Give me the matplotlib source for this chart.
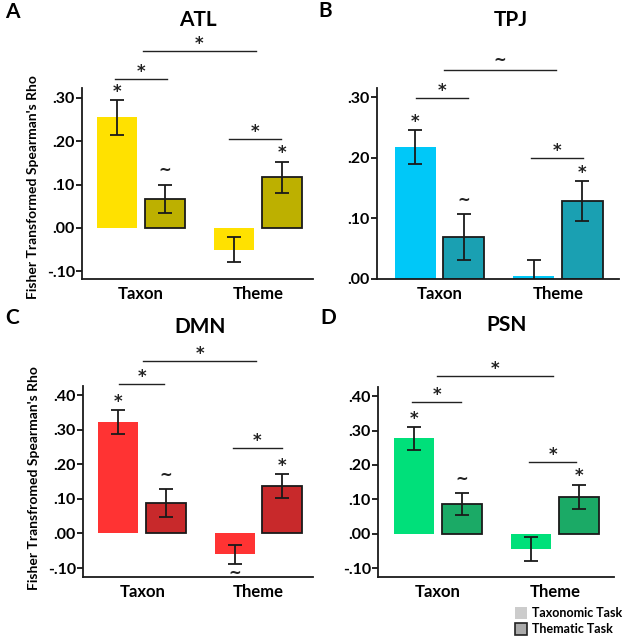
import numpy as np
import matplotlib
matplotlib.use("Agg")
import matplotlib.pyplot as plt
from matplotlib.patches import Rectangle

plt.rcParams['font.family'] = ['Lato', 'DejaVu Sans']
plt.rcParams['font.weight'] = 'bold'

# data
conditions = ["Taxon", "Theme"]
regions = ["ATL", "TPJ", "DMN", "PSN"]
letters = ["A", "B", "C", "D"]

# taxonomic task (light bars) and thematic task (dark bars), per condition
atl_taxonomic = [0.255, -0.050]
atl_thematic = [0.067, 0.117]
atl_tax_err = [0.040, 0.028]
atl_them_err = [0.033, 0.036]

tpj_taxonomic = [0.218, 0.005]
tpj_thematic = [0.069, 0.128]
tpj_tax_err = [0.028, 0.027]
tpj_them_err = [0.038, 0.033]

dmn_taxonomic = [0.323, -0.060]
dmn_thematic = [0.088, 0.137]
dmn_tax_err = [0.034, 0.028]
dmn_them_err = [0.041, 0.035]

psn_taxonomic = [0.278, -0.045]
psn_thematic = [0.087, 0.107]
psn_tax_err = [0.033, 0.035]
psn_them_err = [0.032, 0.036]

# significance marks next to single bars: (condition, task, mark)
atl_marks = [(0, 0, "*"), (0, 1, "~"), (1, 1, "*")]
tpj_marks = [(0, 0, "*"), (0, 1, "~"), (1, 1, "*")]
dmn_marks = [(0, 0, "*"), (0, 1, "~"), (1, 0, "~"), (1, 1, "*")]
psn_marks = [(0, 0, "*"), (0, 1, "~"), (1, 1, "*")]

# brackets: (x1, x2, height, mark)
atl_brackets = [(-0.22, 0.22, 0.344, "*"), (0.02, 0.98, 0.409, "*"), (0.75, 1.20, 0.205, "*")]
tpj_brackets = [(-0.20, 0.24, 0.298, "*"), (0.04, 0.98, 0.345, "~"), (0.77, 1.21, 0.200, "*")]
dmn_brackets = [(-0.20, 0.19, 0.434, "*"), (0.01, 0.98, 0.500, "*"), (0.78, 1.20, 0.248, "*")]
psn_brackets = [(-0.22, 0.20, 0.384, "*"), (-0.01, 0.98, 0.458, "*"), (0.78, 1.18, 0.209, "*")]

light_colors = ["#FFE100", "#00C8F8", "#FF3333", "#00E07A"]
dark_colors = ["#BDB000", "#1AA0B2", "#C8292B", "#1BAA66"]

yticks_list = [
    [-0.1, 0.0, 0.1, 0.2, 0.3],
    [0.0, 0.1, 0.2, 0.3],
    [-0.1, 0.0, 0.1, 0.2, 0.3, 0.4],
    [-0.1, 0.0, 0.1, 0.2, 0.3, 0.4],
]
ylims = [(-0.118, 0.323), (0.0, 0.315), (-0.126, 0.427), (-0.126, 0.427)]
xlims = [(-0.504, 1.47), (-0.527, 1.515), (-0.51, 1.47), (-0.513, 1.504)]

# axes rectangles in pixels: left, right, bottom, top
boxes = [(82, 313, 279, 88), (377, 619, 279, 88), (83, 313, 577, 386), (378, 614, 577, 387)]
title_pos = [(198, 20), (511, 20), (200, 327), (507, 325)]
letter_pos = [(5, 12), (318, 11), (5, 318), (320, 318)]

W, H = 628, 639
fig = plt.figure(figsize=(W / 100, H / 100), dpi=100)

panels = [
    (atl_taxonomic, atl_thematic, atl_tax_err, atl_them_err, atl_marks, atl_brackets),
    (tpj_taxonomic, tpj_thematic, tpj_tax_err, tpj_them_err, tpj_marks, tpj_brackets),
    (dmn_taxonomic, dmn_thematic, dmn_tax_err, dmn_them_err, dmn_marks, dmn_brackets),
    (psn_taxonomic, psn_thematic, psn_tax_err, psn_them_err, psn_marks, psn_brackets),
]

width = 0.345
offset = 0.205
x = np.arange(len(conditions))


def mark(ax, xx, yy, m, dy):
    # stars and tildes in DejaVu, heavier than Lato's
    size = 12 if m == "*" else 11
    ax.annotate(m, (xx, yy), xytext=(0, dy), textcoords="offset points",
                ha="center", va="center", fontsize=size, family=["DejaVu Sans"],
                color="#222222", annotation_clip=False)


for i, (tax, them, tax_e, them_e, marks, brackets) in enumerate(panels):
    l, r, b, t = boxes[i]
    ax = fig.add_axes([l / W, 1 - b / H, (r - l) / W, (b - t) / H])
    ax.bar(x - offset, tax, width, color=light_colors[i], zorder=2)
    ax.bar(x + offset, them, width, color=dark_colors[i], edgecolor="#1a1a1a",
           linewidth=1.3, zorder=2)
    ax.errorbar(x - offset, tax, yerr=tax_e, fmt="none", ecolor="#1a1a1a",
                elinewidth=1.3, capsize=5, capthick=1.3, zorder=3)
    ax.errorbar(x + offset, them, yerr=them_e, fmt="none", ecolor="#1a1a1a",
                elinewidth=1.3, capsize=5, capthick=1.3, zorder=3)

    vals = [tax, them]
    errs = [tax_e, them_e]
    for c, task, m in marks:
        xx = c + (offset if task else -offset)
        v = vals[task][c]
        e = errs[task][c]
        if v < 0 and m == "~":
            mark(ax, xx, v - e, m, -7)
        elif m == "~":
            mark(ax, xx, v + e, m, 10)
        else:
            mark(ax, xx, v + e, m, 6)

    for x1, x2, h, m in brackets:
        ax.plot([x1, x2], [h, h], color="#222222", lw=1, clip_on=False)
        mark(ax, (x1 + x2) / 2, h, m, 5 if m == "*" else 7)

    ax.set_xlim(*xlims[i])
    ax.set_ylim(*ylims[i])
    ax.set_yticks(yticks_list[i])
    ax.set_yticklabels([("%.2f" % v).replace("0.", ".") for v in yticks_list[i]])
    ax.set_xticks(x)
    ax.set_xticklabels(conditions)
    ax.tick_params(axis="x", length=0, pad=5, labelsize=12)
    ax.tick_params(axis="y", length=4, width=1.2, pad=1, labelsize=11.5)
    for s in ["top", "right"]:
        ax.spines[s].set_visible(False)
    for s in ["left", "bottom"]:
        ax.spines[s].set_linewidth(1.3)
        ax.spines[s].set_color("#1a1a1a")

    tx, ty = title_pos[i]
    fig.text(tx / W, 1 - ty / H, regions[i], ha="center", va="center",
             fontsize=15, fontweight="bold")
    lx, ly = letter_pos[i]
    fig.text(lx / W, 1 - ly / H, letters[i], ha="left", va="center",
             fontsize=15, fontweight="bold")
    if i % 2 == 0:
        ax.set_ylabel("Fisher Transformed Spearman's Rho" if i == 0 else
                      "Fisher Transfromed Spearman's Rho", fontsize=10,
                      fontweight="bold")
        ax.yaxis.set_label_coords(-0.185, 0.48 if i == 0 else 0.52)

# legend
fig.patches.append(Rectangle((515 / W, 1 - 619 / H), 12 / W, 12 / H, transform=fig.transFigure,
                             facecolor="#cccccc", edgecolor="none"))
fig.patches.append(Rectangle((515 / W, 1 - 635 / H), 12 / W, 12 / H, transform=fig.transFigure,
                             facecolor="#aaaaaa", edgecolor="#222222", linewidth=1.2))
fig.text(532 / W, 1 - 613 / H, "Taxonomic Task", ha="left", va="center", fontsize=9)
fig.text(532 / W, 1 - 629 / H, "Thematic Task", ha="left", va="center", fontsize=9)

fig.savefig("out.png", dpi=100)
